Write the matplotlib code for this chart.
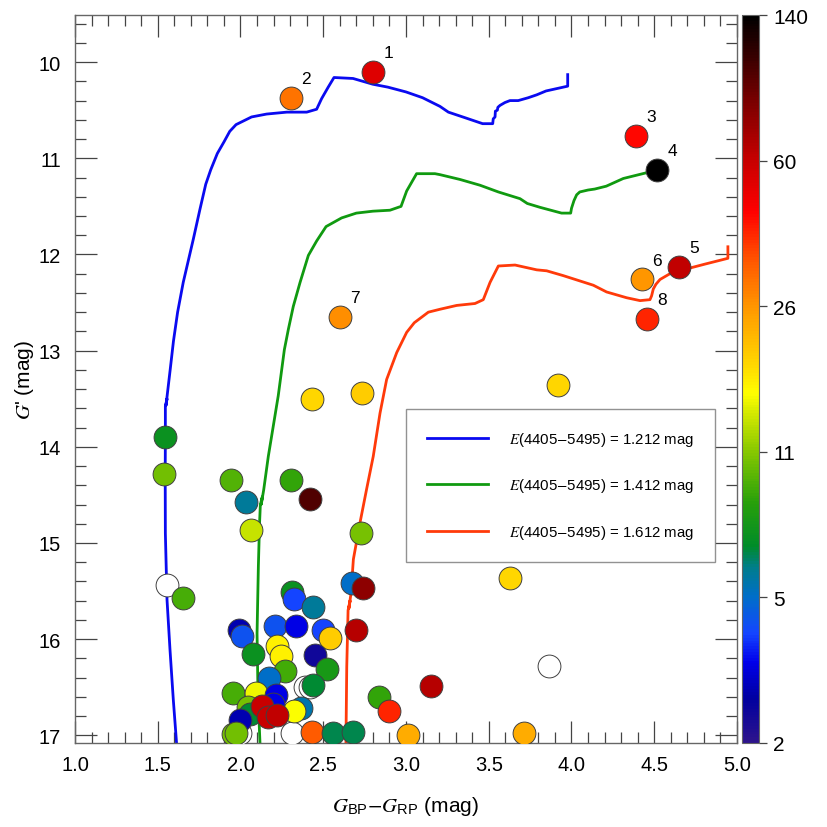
import numpy as np
import matplotlib
matplotlib.use("Agg")
import matplotlib.pyplot as plt
from matplotlib.colors import LinearSegmentedColormap, Normalize
from matplotlib.cm import ScalarMappable

plt.rcParams['font.family'] = ['Liberation Sans', 'DejaVu Sans']
plt.rcParams['mathtext.fontset'] = 'stix'

# ---------------- data ----------------
blue_x = [1.614, 1.594, 1.574, 1.556, 1.546, 1.545, 1.546, 1.546, 1.556, 1.550, 1.558, 1.575, 1.595,
          1.62, 1.654, 1.715, 1.755, 1.79, 1.82, 1.86, 1.90, 1.935, 1.973, 2.067, 2.158, 2.28, 2.40,
          2.46, 2.49, 2.53, 2.565, 2.68, 2.80, 2.89, 3.0, 3.10, 3.205, 3.256, 3.36, 3.463, 3.524,
          3.527, 3.538, 3.540, 3.552, 3.555, 3.568, 3.598, 3.628, 3.678, 3.739, 3.79, 3.846, 3.977, 3.977]
blue_y = [17.09, 16.63, 16.11, 15.59, 14.9, 14.3, 13.9, 13.58, 13.50, 13.57, 13.45, 13.2, 12.9,
          12.6, 12.29, 11.84, 11.53, 11.27, 11.12, 10.95, 10.83, 10.72, 10.65, 10.57, 10.54, 10.52, 10.52,
          10.49, 10.38, 10.26, 10.16, 10.17, 10.23, 10.26, 10.31, 10.37, 10.46, 10.52, 10.58, 10.64, 10.64,
          10.59, 10.57, 10.51, 10.50, 10.47, 10.45, 10.42, 10.40, 10.40, 10.37, 10.34, 10.30, 10.25, 10.13]

green_x = [2.118, 2.106, 2.100, 2.108, 2.115, 2.120, 2.132, 2.125, 2.140, 2.168, 2.228, 2.265, 2.289,
           2.319, 2.36, 2.41, 2.46, 2.517, 2.611, 2.70, 2.80, 2.903, 2.97, 3.004, 3.064, 3.175, 3.205,
           3.326, 3.447, 3.558, 3.689, 3.733, 3.81, 3.94, 3.995, 4.00, 4.015, 4.031, 4.05, 4.10, 4.14,
           4.21, 4.313, 4.454, 4.50, 4.52]
green_y = [17.09, 16.6, 15.94, 15.24, 14.8, 14.60, 14.52, 14.60, 14.45, 14.10, 13.47, 12.99, 12.78,
           12.54, 12.29, 12.01, 11.86, 11.71, 11.62, 11.57, 11.55, 11.54, 11.50, 11.34, 11.16, 11.16, 11.17,
           11.22, 11.28, 11.35, 11.42, 11.47, 11.51, 11.57, 11.57, 11.52, 11.44, 11.38, 11.35, 11.33, 11.32,
           11.29, 11.21, 11.15, 11.11, 11.05]

red_x = [2.637, 2.642, 2.650, 2.662, 2.655, 2.668, 2.682, 2.722, 2.762, 2.802, 2.843, 2.883, 2.944,
         3.004, 3.05, 3.135, 3.205, 3.306, 3.417, 3.467, 3.508, 3.558, 3.659, 3.79, 3.85, 3.95, 4.132,
         4.212, 4.333, 4.414, 4.474, 4.484, 4.494, 4.51, 4.535, 4.595, 4.696, 4.807, 4.945, 4.945]
red_y = [17.09, 16.29, 15.70, 15.60, 15.68, 15.52, 15.17, 14.79, 14.44, 14.10, 13.65, 13.30, 13.02,
         12.81, 12.71, 12.60, 12.57, 12.53, 12.51, 12.47, 12.29, 12.12, 12.11, 12.16, 12.17, 12.22, 12.32,
         12.39, 12.45, 12.48, 12.47, 12.43, 12.36, 12.31, 12.26, 12.20, 12.15, 12.10, 12.04, 11.92]

iso_labels = ['1.212', '1.412', '1.612']

# stars: colour (BP-RP), magnitude G', value on colour bar (nan = no value, open circle)
star_x = [1.558, 2.390, 2.420, 1.997, 2.309, 3.863,
          1.542, 1.540, 1.941, 2.305, 2.033, 2.420, 2.063, 2.728,
          2.432, 2.732, 3.916, 3.627, 3.151, 3.711, 3.015,
          1.654, 2.674, 2.742, 2.309, 2.323, 2.438, 2.700,
          1.993, 2.009, 2.208, 2.335, 2.500, 2.543, 2.219, 2.247, 2.076,
          2.448, 2.521, 2.269, 2.174, 2.436, 1.953, 2.095, 2.213, 2.835,
          2.899, 2.044, 2.060, 2.366, 2.323, 2.198, 2.128, 2.168, 2.219,
          1.997, 1.953, 1.971, 2.434, 2.561, 2.678,
          2.802, 2.303, 4.390, 4.517, 4.650, 4.426, 2.601, 4.454]
star_y = [15.44, 16.50, 16.50, 16.98, 16.98, 16.28,
          13.90, 14.28, 14.35, 14.35, 14.57, 14.54, 14.87, 14.90,
          13.50, 13.44, 13.36, 15.36, 16.49, 16.98, 17.00,
          15.57, 15.42, 15.47, 15.51, 15.58, 15.67, 15.91,
          15.90, 15.97, 15.86, 15.86, 15.90, 15.99, 16.07, 16.18, 16.15,
          16.17, 16.31, 16.33, 16.40, 16.48, 16.56, 16.56, 16.58, 16.60,
          16.75, 16.71, 16.78, 16.72, 16.75, 16.67, 16.70, 16.81, 16.79,
          16.84, 16.99, 16.98, 16.97, 16.98, 16.97,
          10.10, 10.37, 10.77, 11.12, 12.13, 12.26, 12.65, 12.67]
star_val = [np.nan, np.nan, np.nan, np.nan, np.nan, np.nan,
            7.1, 10.3, 9.4, 8.6, 5.7, 100, 13.3, 10.5,
            18.4, 19.5, 18.4, 18.4, 65, 22.9, 22.9,
            9.2, 5.0, 78, 7.1, 4.0, 5.7, 65,
            2.8, 4.3, 4.3, 3.3, 4.0, 19.5, 16.5, 16.5, 7.1,
            2.4, 7.6, 9.0, 5.0, 6.5, 9.2, 15.0, 3.3, 8.6,
            40, 10.5, 6.5, 5.4, 15.5, 3.3, 60, 60, 62,
            2.8, 10.5, 10.3, 33, 6.3, 6.3,
            53, 30, 44, 140, 62, 26, 27, 40]
label_names = ['1', '2', '3', '4', '5', '6', '7', '8']

cbar_ticks = [2, 5, 11, 26, 60, 140]

# ---------------- colour map ----------------
anchors = [(0.00, (45, 20, 140)), (0.06, (0, 0, 160)), (0.11, (0, 0, 235)), (0.15, (20, 70, 255)),
           (0.20, (0, 110, 200)), (0.24, (0, 125, 140)), (0.27, (0, 140, 40)), (0.33, (40, 160, 10)),
           (0.40, (135, 200, 0)), (0.455, (215, 235, 0)), (0.48, (255, 255, 0)), (0.52, (255, 215, 0)),
           (0.60, (255, 150, 0)), (0.66, (255, 90, 0)), (0.73, (255, 0, 0)), (0.80, (200, 0, 0)),
           (0.875, (130, 0, 0)), (0.95, (50, 0, 0)), (1.00, (0, 0, 0))]
cmap = LinearSegmentedColormap.from_list('age', [(p, tuple(c / 255 for c in col)) for p, col in anchors])
tick_pos = np.linspace(0, 1, len(cbar_ticks))


def to_frac(v):
    return np.interp(np.log10(v), np.log10(cbar_ticks), tick_pos)


# ---------------- figure ----------------
fig = plt.figure(figsize=(8.28, 8.28), dpi=100)
ax = fig.add_axes([75 / 828, 84 / 828, 662 / 828, 728 / 828])
cax = fig.add_axes([742 / 828, 84 / 828, 17 / 828, 728 / 828])

iso_colors = ['#0a0af0', '#109a10', '#ff3a0a']
for xs, ys, col, lab in zip([blue_x, green_x, red_x], [blue_y, green_y, red_y], iso_colors, iso_labels):
    ax.plot(xs, ys, color=col, lw=2.0, zorder=2, label=r'$E$(4405$-$5495) = ' + lab + ' mag')

sx = np.array(star_x)
sy = np.array(star_y)
sv = np.array(star_val, dtype=float)
for i in range(len(sx)):
    if np.isnan(sv[i]):
        fc = 'white'
    else:
        fc = cmap(to_frac(sv[i]))
    ax.scatter(sx[i], sy[i], s=270, facecolor=fc, edgecolor='#404040', linewidth=0.7, zorder=3)

for k, name in enumerate(label_names):
    i = len(sx) - len(label_names) + k
    ax.annotate(name, (sx[i], sy[i]), xytext=(11, 14), textcoords='offset points',
                ha='center', va='center', fontsize=12.5, zorder=4)

ax.set_xlim(1.0, 5.0)
ax.set_ylim(17.08, 9.51)
ax.set_xticks(np.arange(1.0, 5.01, 0.5))
ax.set_xticklabels([f'{v:.1f}' for v in np.arange(1.0, 5.01, 0.5)])
ax.set_xticks(np.arange(1.0, 5.01, 0.1), minor=True)
ax.set_yticks(np.arange(10, 18, 1))
ax.set_yticks(np.arange(9.6, 17.01, 0.2), minor=True)
ax.tick_params(which='both', direction='in', top=True, right=True, color='#444444', width=0.9)
ax.tick_params(which='major', length=16, labelsize=14.5)
ax.tick_params(axis='x', which='major', pad=9)
ax.tick_params(axis='y', which='major', pad=10)
ax.tick_params(which='minor', length=8)
for sp in ax.spines.values():
    sp.set_color('#666666')
    sp.set_linewidth(1.0)

ax.set_xlabel(r'$G_{\mathregular{BP}}$$-$$G_{\mathregular{RP}}$ (mag)', fontsize=15, labelpad=14)
ax.set_ylabel(r"$G$' (mag)", fontsize=15, labelpad=2)

leg = ax.legend(loc='upper left', bbox_to_anchor=(0.5, 0.459), borderaxespad=0, frameon=True,
                fancybox=False, edgecolor='#777777', fontsize=10.8, handlelength=4.1,
                handletextpad=1.35, labelspacing=1.9, borderpad=1.4)
leg.get_frame().set_linewidth(1.0)

sm = ScalarMappable(norm=Normalize(0, 1), cmap=cmap)
cb = fig.colorbar(sm, cax=cax, ticks=tick_pos)
cb.ax.set_yticklabels([str(t) for t in cbar_ticks])
cb.ax.tick_params(labelsize=15, length=6, width=0.9, color='#444444', pad=4)
cb.outline.set_edgecolor('#666666')

fig.savefig('out.png', dpi=100)
